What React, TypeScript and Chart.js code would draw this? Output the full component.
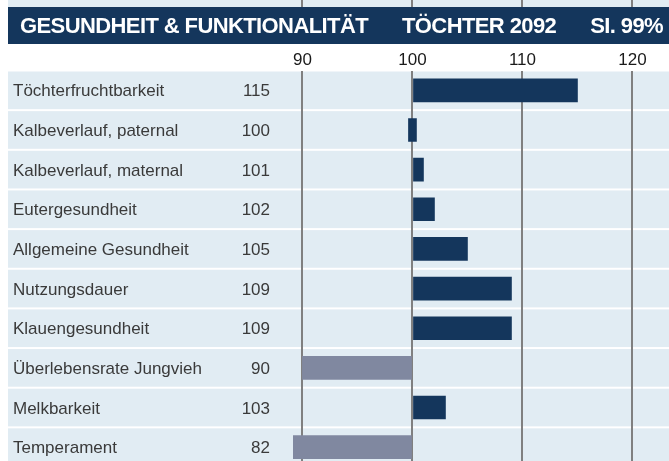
import React, { useEffect, useRef } from "react";
import { Chart, registerables } from "chart.js";

Chart.register(...registerables);

const categories = [
  "Töchterfruchtbarkeit",
  "Kalbeverlauf, paternal",
  "Kalbeverlauf, maternal",
  "Eutergesundheit",
  "Allgemeine Gesundheit",
  "Nutzungsdauer",
  "Klauengesundheit",
  "Überlebensrate Jungvieh",
  "Melkbarkeit",
  "Temperament",
];
const values = [115, 100, 101, 102, 105, 109, 109, 90, 103, 82];
const tickValues = [90, 100, 110, 120];
const baseValue = 100;
const headerTitle = "GESUNDHEIT & FUNKTIONALITÄT";
const headerGroup = "TÖCHTER 2092";
const headerSi = "SI. 99%";

const NAVY = "#14365c";
const GRAYBAR = "#8088a0";
const BAND = "#e1ecf3";
const GRID = "#808080";
const TEXT = "#3a3a3a";
const FONT = "Arial, 'Liberation Sans', Helvetica, sans-serif";

const decorPlugin = {
  id: "decor",
  beforeDraw(chart: any) {
    const { ctx, chartArea, scales } = chart;
    const W = chart.width;
    const xs = scales.x;
    const ys = scales.y;
    ctx.save();
    // top strip
    ctx.fillStyle = BAND;
    ctx.fillRect(0, 0, W, 7);
    ctx.strokeStyle = GRID;
    ctx.lineWidth = 2;
    tickValues.forEach((v) => {
      const px = Math.round(xs.getPixelForValue(v));
      ctx.beginPath();
      ctx.moveTo(px, 0);
      ctx.lineTo(px, 7);
      ctx.stroke();
    });
    // header bar
    ctx.fillStyle = NAVY;
    ctx.fillRect(0, 7, W, 37);
    // row bands
    const step = (chartArea.bottom - chartArea.top) / categories.length;
    ctx.fillStyle = BAND;
    categories.forEach((_, i) => {
      const c = ys.getPixelForValue(i);
      ctx.fillRect(0, c - step / 2 + 1, W, step - 2);
    });
    // header text
    ctx.fillStyle = "#ffffff";
    ctx.font = `bold 22px ${FONT}`;
    ctx.textBaseline = "alphabetic";
    (ctx as any).letterSpacing = "-0.6px";
    ctx.textAlign = "left";
    ctx.fillText(headerTitle, 12, 33);
    ctx.fillText(headerGroup, 394, 33);
    ctx.textAlign = "right";
    ctx.fillText(headerSi, 655, 33);
    (ctx as any).letterSpacing = "0px";
    ctx.restore();
  },
  afterDatasetsDraw(chart: any) {
    const { ctx, scales } = chart;
    const ys = scales.y;
    ctx.save();
    ctx.fillStyle = TEXT;
    ctx.font = `17px ${FONT}`;
    ctx.textBaseline = "alphabetic";
    categories.forEach((name, i) => {
      const cy = ys.getPixelForValue(i) + 6;
      ctx.textAlign = "left";
      ctx.fillText(name, 5, cy);
      ctx.textAlign = "right";
      ctx.fillText(String(values[i]), 262, cy);
    });
    ctx.restore();
  },
};

export default function App() {
  const ref = useRef<HTMLCanvasElement | null>(null);
  useEffect(() => {
    if (!ref.current) return;
    const chart = new Chart(ref.current, {
      type: "bar",
      data: {
        labels: categories,
        datasets: [
          {
            data: values,
            base: baseValue,
            backgroundColor: values.map((v) => (v < baseValue ? GRAYBAR : NAVY)),
            borderWidth: 0,
            barThickness: 23,
            minBarLength: 8,
          } as any,
        ],
      },
      options: {
        indexAxis: "y",
        animation: false,
        responsive: false,
        devicePixelRatio: 1,
        layout: { padding: { left: 285, right: 0, top: 0, bottom: 3 } },
        plugins: {
          legend: { display: false },
          tooltip: { enabled: false },
        },
        scales: {
          x: {
            type: "linear",
            position: "top",
            min: 89.14,
            max: 123.32,
            afterBuildTicks: (s: any) => {
              s.ticks = tickValues.map((v) => ({ value: v }));
            },
            afterFit: (s: any) => {
              s.height = 70.5;
            },
            grid: { color: GRID, lineWidth: 2, drawTicks: false },
            border: { display: false },
            ticks: {
              color: "#1a1a1a",
              font: { size: 17, family: FONT },
              padding: 0,
              maxRotation: 0,
              callback: (v: any) => String(v),
            },
          },
          y: {
            type: "category",
            display: false,
            grid: { display: false },
          },
        },
      },
      plugins: [decorPlugin],
    });
    return () => chart.destroy();
  }, []);
  return (
    <div style={{ position: "fixed", left: 0, top: 0, width: 669, height: 461, overflow: "hidden", background: "#fff" }}>
      <canvas
        ref={ref}
        width={661}
        height={470}
        style={{ position: "absolute", left: 8, top: 0, width: 661, height: 470 }}
      />
    </div>
  );
}
